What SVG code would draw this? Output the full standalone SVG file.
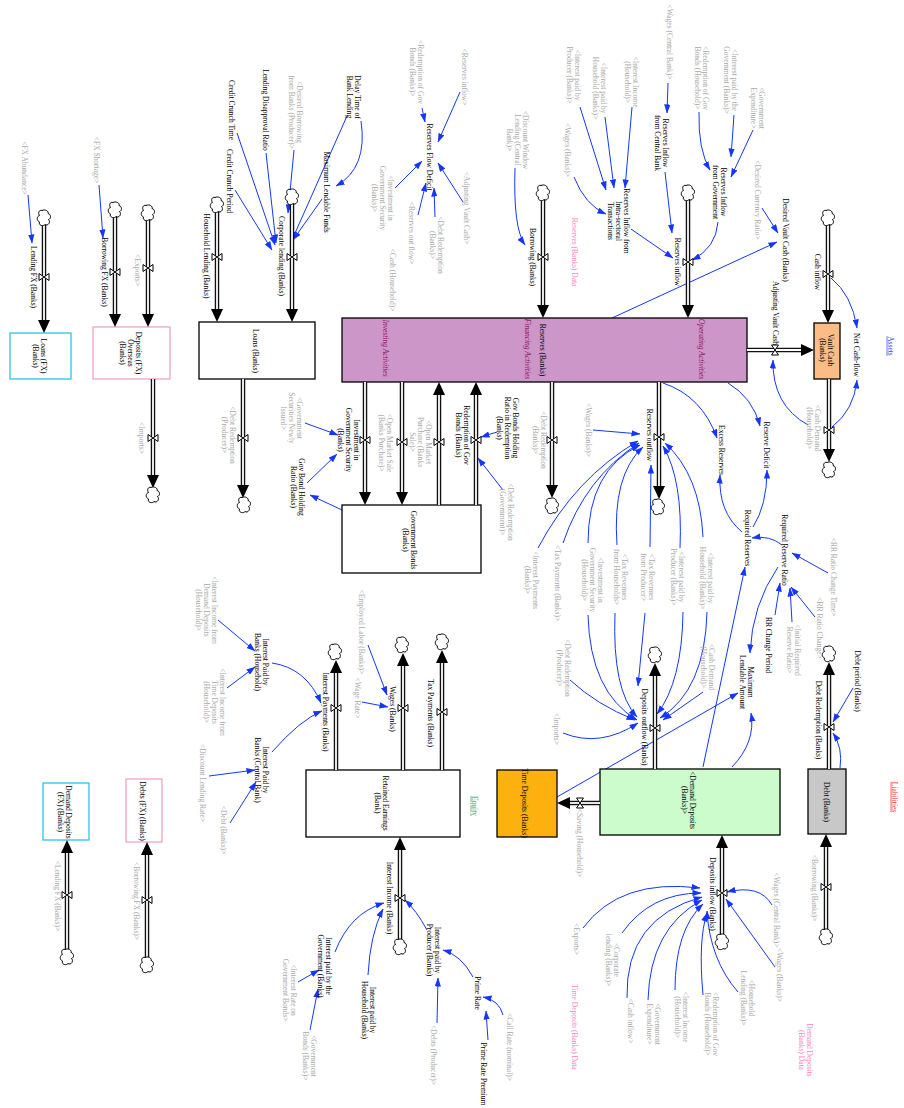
<svg xmlns="http://www.w3.org/2000/svg" width="904" height="1108" viewBox="0 0 904 1108">
<defs>
<style>
.t{font-family:"Liberation Serif","Times New Roman",serif;font-size:7.5px;text-anchor:middle;fill:#000}
.g{fill:#a9a9a9}
.p{fill:#ff7fbf}
.i{font-style:italic;fill:#8c1060}
.lk{fill:none;stroke:#1436ff;stroke-width:1;marker-end:url(#ar)}
.po{stroke:#111;stroke-width:4.5;fill:none}
.pi{stroke:#fff;stroke-width:1.8;fill:none}
.bx{stroke:#000;stroke-width:1.3}
</style>
<marker id="ar" viewBox="0 0 10 7" refX="9.5" refY="3.5" markerWidth="9" markerHeight="6.5" markerUnits="userSpaceOnUse" orient="auto"><path d="M0,0 L10,3.5 L0,7 Z" fill="#1436ff"/></marker>
<path id="cl" d="M-2,-7.5 C1,-9 5,-7 4,-4.5 C7.5,-3.5 7,1 4.5,1.5 C7,4 4,8.5 1,6.5 C-1,9 -6,7 -4.5,4 C-8,2.5 -7,-2 -4.5,-2.5 C-6.5,-5.5 -4.5,-8.5 -2,-7.5 Z" fill="#fff" stroke="#000" stroke-width="1"/>
<path id="vv" d="M-5,-3.5 L5,3.5 L5,-3.5 L-5,3.5 Z" fill="#fff" stroke="#000" stroke-width="1"/>
<path id="ah" d="M0,0 L-6,-13 L6,-13 Z" fill="#000"/>
</defs>
<rect width="904" height="1108" fill="#fff"/>

<!-- connectors -->
<g id="links">
<path class="lk" d="M28,195 L32,243"/>
<path class="lk" d="M99,185 L103,238"/>
<path class="lk" d="M237,133 L275,245"/>
<path class="lk" d="M235,190 L272,250"/>
<path class="lk" d="M266,153 L276,243"/>
<path class="lk" d="M294,150 L288,213"/>
<path class="lk" d="M347,116 L292,240"/>
<path class="lk" d="M361,121 Q368,168 336,186"/>
<path class="lk" d="M322,199 L293,240"/>
<path class="lk" d="M422,108 L425,122"/>
<path class="lk" d="M460,92 L438,142"/>
<path class="lk" d="M395,188 L422,161"/>
<path class="lk" d="M418,215 L426,183"/>
<path class="lk" d="M435,217 L434,188"/>
<path class="lk" d="M463,202 L438,163"/>
<path class="lk" d="M515,168 Q513,228 525,245"/>
<path class="lk" d="M580,107 L606,190"/>
<path class="lk" d="M605,117 L614,188"/>
<path class="lk" d="M632,107 L625,188"/>
<path class="lk" d="M574,177 Q585,205 606,214"/>
<path class="lk" d="M631,229 L673,258"/>
<path class="lk" d="M668,83 L667,113"/>
<path class="lk" d="M665,172 L672,233"/>
<path class="lk" d="M699,112 Q698,150 710,170"/>
<path class="lk" d="M734,115 L731,157"/>
<path class="lk" d="M753,130 L731,177"/>
<path class="lk" d="M718,222 Q716,248 692,260"/>
<path class="lk" d="M762,208 L778,233"/>
<path class="lk" d="M612,318 L777,242"/>
<path class="lk" d="M831,278 Q852,295 857,328"/>
<path class="lk" d="M832,427 Q854,410 857,380"/>
<path class="lk" d="M808,425 Q772,405 773,360"/>
<path class="lk" d="M663,383 Q702,396 717,438"/>
<path class="lk" d="M728,383 Q753,398 760,426"/>
<path class="lk" d="M742,532 Q718,512 720,475"/>
<path class="lk" d="M753,527 Q767,505 767,470"/>
<path class="lk" d="M782,545 Q770,535 752,538"/>
<path class="lk" d="M828,573 L792,553"/>
<path class="lk" d="M815,617 L791,587"/>
<path class="lk" d="M792,622 L790,588"/>
<path class="lk" d="M775,615 L780,583"/>
<path class="lk" d="M778,567 Q752,605 750,653"/>
<path class="lk" d="M703,767 L745,567"/>
<path class="lk" d="M732,767 Q756,742 751,713"/>
<path class="lk" d="M557,797 L738,693"/>
<path class="lk" d="M305,423 L338,435"/>
<path class="lk" d="M307,483 L337,454"/>
<path class="lk" d="M342,510 L310,495"/>
<path class="lk" d="M497,432 L481,437"/>
<path class="lk" d="M503,490 L478,458"/>
<path class="lk" d="M593,430 L640,434"/>
<path class="lk" d="M538,548 Q575,478 638,441"/>
<path class="lk" d="M563,543 Q585,478 639,443"/>
<path class="lk" d="M588,543 Q588,470 640,445"/>
<path class="lk" d="M617,545 Q612,475 643,447"/>
<path class="lk" d="M650,547 L651,465"/>
<path class="lk" d="M680,548 Q683,480 663,446"/>
<path class="lk" d="M703,537 Q700,475 665,443"/>
<path class="lk" d="M588,615 Q590,692 637,720"/>
<path class="lk" d="M615,613 Q612,690 637,717"/>
<path class="lk" d="M645,613 L638,686"/>
<path class="lk" d="M683,612 Q682,682 657,714"/>
<path class="lk" d="M707,612 Q705,690 660,718"/>
<path class="lk" d="M703,692 L663,720"/>
<path class="lk" d="M570,680 Q597,705 635,720"/>
<path class="lk" d="M563,733 Q600,748 638,723"/>
<path class="lk" d="M772,905 Q760,884 727,892"/>
<path class="lk" d="M775,967 L726,899"/>
<path class="lk" d="M738,992 Q710,960 707,911"/>
<path class="lk" d="M703,995 Q698,940 707,913"/>
<path class="lk" d="M675,990 Q675,930 703,904"/>
<path class="lk" d="M648,1000 Q650,928 702,900"/>
<path class="lk" d="M627,998 Q625,918 702,897"/>
<path class="lk" d="M622,933 Q650,893 701,893"/>
<path class="lk" d="M583,928 Q620,878 700,888"/>
<path class="lk" d="M853,688 L833,722"/>
<path class="lk" d="M840,768 Q843,748 833,733"/>
<path class="lk" d="M368,645 L387,695"/>
<path class="lk" d="M362,702 L388,707"/>
<path class="lk" d="M218,620 L255,651"/>
<path class="lk" d="M227,688 L255,667"/>
<path class="lk" d="M272,663 Q306,668 321,703"/>
<path class="lk" d="M272,752 Q300,720 322,711"/>
<path class="lk" d="M209,776 L255,770"/>
<path class="lk" d="M230,823 L256,782"/>
<path class="lk" d="M335,952 Q350,913 384,903"/>
<path class="lk" d="M368,975 Q370,935 383,909"/>
<path class="lk" d="M427,930 Q416,910 405,900"/>
<path class="lk" d="M473,977 Q461,955 443,950"/>
<path class="lk" d="M437,1023 L438,978"/>
<path class="lk" d="M503,1015 Q499,1000 483,997"/>
<path class="lk" d="M488,1040 L486,1011"/>
<path class="lk" d="M298,982 L319,970"/>
<path class="lk" d="M310,1030 L318,989"/>
</g>

<!-- stocks -->
<g id="stock-loans-fx"><rect x="10" y="333" width="61" height="46" fill="#fff" stroke="#29c5ec" stroke-width="1.3"/>
<text class="t" transform="translate(40,356) rotate(90)"><tspan x="0" y="-1.4">Loans (FX)</tspan><tspan x="0" y="6.6">(Banks)</tspan></text></g>
<g id="stock-deposits-fx-overseas"><rect x="93" y="327" width="77" height="52" fill="#fff" stroke="#f3a3c6" stroke-width="1.3"/>
<text class="t" transform="translate(131,353) rotate(90)"><tspan x="0" y="-5.4">Deposits (FX)</tspan><tspan x="0" y="2.6">Overseas</tspan><tspan x="0" y="10.6">(Banks)</tspan></text></g>
<g id="stock-loans"><rect class="bx" x="199" y="322" width="116" height="57" fill="#fff"/>
<text class="t" transform="translate(256,351) rotate(90)"><tspan x="0" y="2.6">Loans (Banks)</tspan></text></g>
<g id="stock-reserves"><rect class="bx" x="342" y="318" width="405" height="64" fill="#cc96c8"/>
<text class="t" transform="translate(543,350) rotate(90)"><tspan x="0" y="2.6">Reserves (Banks)</tspan></text>
<text class="t i" transform="translate(386,348) rotate(90)"><tspan x="0" y="2.6">Investing Activities</tspan></text>
<text class="t i" transform="translate(528,349) rotate(90)"><tspan x="0" y="2.6">Financing Activities</tspan></text>
<text class="t i" transform="translate(702,349) rotate(90)"><tspan x="0" y="2.6">Operating Activities</tspan></text></g>
<g id="stock-vault-cash"><rect class="bx" x="814" y="323" width="26" height="56" fill="#fbbd85"/>
<text class="t" transform="translate(827,350) rotate(90)"><tspan x="0" y="-1.4">Vault Cash</tspan><tspan x="0" y="6.6">(Banks)</tspan></text></g>
<g id="stock-gov-bonds"><rect class="bx" x="342" y="505" width="139" height="68" fill="#fff"/>
<text class="t" transform="translate(410,540) rotate(90)"><tspan x="0" y="-1.4">Government Bonds</tspan><tspan x="0" y="6.6">(Banks)</tspan></text></g>
<g id="stock-retained-earnings"><rect class="bx" x="306" y="770" width="154" height="67" fill="#fff"/>
<text class="t" transform="translate(382,803) rotate(90)"><tspan x="0" y="-1.4">Retained Earnings</tspan><tspan x="0" y="6.6">(Bank)</tspan></text></g>
<g id="stock-time-deposits"><rect class="bx" x="497" y="770" width="60" height="67" fill="#fdb10f"/>
<text class="t" transform="translate(525,803) rotate(90)"><tspan x="0" y="2.6">Time Deposits (Banks)</tspan></text></g>
<g id="stock-demand-deposits"><rect class="bx" x="600" y="769" width="180" height="66" fill="#ccfccc"/>
<text class="t" transform="translate(689,800) rotate(90)"><tspan x="0" y="-1.4">&lt;Demand Deposits</tspan><tspan x="0" y="6.6">(Banks)&gt;</tspan></text></g>
<g id="stock-debt"><rect class="bx" x="808" y="769" width="38" height="65" fill="#c8c8c8"/>
<text class="t" transform="translate(827,802) rotate(90)"><tspan x="0" y="2.6">Debt (Banks)</tspan></text></g>
<g id="stock-dd-fx"><rect x="43" y="783" width="46" height="57" fill="#fff" stroke="#29c5ec" stroke-width="1.3"/>
<text class="t" transform="translate(65,812) rotate(90)"><tspan x="0" y="-1.4">Demand Deposits</tspan><tspan x="0" y="6.6">(FX) (Banks)</tspan></text></g>
<g id="stock-debts-fx"><rect x="126" y="779" width="36" height="63" fill="#fff" stroke="#f3a3c6" stroke-width="1.3"/>
<text class="t" transform="translate(143,811) rotate(90)"><tspan x="0" y="2.6">Debts (FX) (Banks)</tspan></text></g>

<!-- flows -->
<g id="flow-lending-fx"><path class="po" d="M44,224 V322"/><path class="pi" d="M44,224 V322"/><use href="#ah" transform="translate(44,333)"/><use href="#cl" x="44" y="218"/><use href="#vv" x="44" y="277"/>
<text class="t" transform="translate(34,277) rotate(90)"><tspan x="0" y="2.6">Lending FX (Banks)</tspan></text></g>
<g id="flow-borrowing-fx"><path class="po" d="M115,216 V316"/><path class="pi" d="M115,216 V316"/><use href="#ah" transform="translate(115,327)"/><use href="#cl" x="115" y="210"/><use href="#vv" x="115" y="272"/>
<text class="t" transform="translate(105,272) rotate(90)"><tspan x="0" y="2.6">Borrowing FX (Banks)</tspan></text></g>
<g id="flow-exports"><path class="po" d="M148,219 V316"/><path class="pi" d="M148,219 V316"/><use href="#ah" transform="translate(148,327)"/><use href="#cl" x="148" y="213"/><use href="#vv" x="148" y="268"/>
<text class="t g" transform="translate(138,270) rotate(90)"><tspan x="0" y="2.6">&lt;Exports&gt;</tspan></text></g>
<g id="flow-imports"><path class="po" d="M153,379 V478"/><path class="pi" d="M153,379 V478"/><use href="#ah" transform="translate(153,488)"/><use href="#cl" x="153" y="495"/><use href="#vv" x="153" y="438"/>
<text class="t g" transform="translate(142,438) rotate(90)"><tspan x="0" y="2.6">&lt;Imports&gt;</tspan></text></g>
<g id="flow-household-lending"><path class="po" d="M217,211 V311"/><path class="pi" d="M217,211 V311"/><use href="#ah" transform="translate(217,322)"/><use href="#cl" x="217" y="205"/><use href="#vv" x="217" y="257"/>
<text class="t" transform="translate(207,256) rotate(90)"><tspan x="0" y="2.6">Household Lending (Banks)</tspan></text></g>
<g id="flow-corporate-lending"><path class="po" d="M292,203 V311"/><path class="pi" d="M292,203 V311"/><use href="#ah" transform="translate(292,322)"/><use href="#cl" x="292" y="197"/><use href="#vv" x="292" y="257"/>
<text class="t" transform="translate(282,256) rotate(90)"><tspan x="0" y="2.6">Corporate lending (Banks)</tspan></text></g>
<g id="flow-debt-redemption-producer"><path class="po" d="M243,379 V488"/><path class="pi" d="M243,379 V488"/><use href="#ah" transform="translate(243,498)"/><use href="#cl" x="244" y="505"/><use href="#vv" x="243" y="438"/>
<text class="t g" transform="translate(229,435) rotate(90)"><tspan x="0" y="-1.4">&lt;Debt Redemption</tspan><tspan x="0" y="6.6">(Producer)&gt;</tspan></text></g>
<g id="flow-borrowing-banks"><path class="po" d="M543,199 V307"/><path class="pi" d="M543,199 V307"/><use href="#ah" transform="translate(543,318)"/><use href="#cl" x="543" y="193"/><use href="#vv" x="543" y="257"/>
<text class="t" transform="translate(533,257) rotate(90)"><tspan x="0" y="2.6">Borrowing (Banks)</tspan></text></g>
<g id="flow-reserves-inflow"><path class="po" d="M688,199 V307"/><path class="pi" d="M688,199 V307"/><use href="#ah" transform="translate(688,318)"/><use href="#cl" x="688" y="193"/><use href="#vv" x="688" y="262"/>
<text class="t" transform="translate(678,262) rotate(90)"><tspan x="0" y="2.6">Reserves inflow</tspan></text></g>
<g id="flow-cash-inflow"><path class="po" d="M828,224 V312"/><path class="pi" d="M828,224 V312"/><use href="#ah" transform="translate(828,323)"/><use href="#cl" x="828" y="218"/><use href="#vv" x="828" y="274"/>
<text class="t" transform="translate(818,272) rotate(90)"><tspan x="0" y="2.6">Cash inflow</tspan></text></g>
<g id="flow-adjusting-vault-cash"><path class="po" d="M747,350 H803"/><path class="pi" d="M747,350 H803"/><use href="#ah" transform="translate(814,350) rotate(-90)"/><use href="#vv" transform="translate(775,350) rotate(90)"/>
<text class="t" transform="translate(776,313) rotate(90)"><tspan x="0" y="2.6">Adjusting Vault Cash</tspan></text></g>
<g id="flow-cash-outflow"><path class="po" d="M829,379 V452"/><path class="pi" d="M829,379 V452"/><use href="#ah" transform="translate(829,462)"/><use href="#cl" x="829" y="470"/><use href="#vv" x="829" y="430"/>
<text class="t g" transform="translate(814,428) rotate(90)"><tspan x="0" y="-1.4">&lt;Cash Demand</tspan><tspan x="0" y="6.6">(Household)&gt;</tspan></text></g>
<g id="flow-investment-gov-security"><path class="po" d="M365,382 V494"/><path class="pi" d="M365,382 V494"/><use href="#ah" transform="translate(365,505)"/><use href="#vv" x="365" y="440"/>
<text class="t" transform="translate(349,440) rotate(90)"><tspan x="0" y="-5.4">Investment in</tspan><tspan x="0" y="2.6">Government Security</tspan><tspan x="0" y="10.6">(Banks)</tspan></text></g>
<g id="flow-open-market-sale"><path class="po" d="M402,382 V494"/><path class="pi" d="M402,382 V494"/><use href="#ah" transform="translate(402,505)"/><use href="#vv" x="402" y="442"/>
<text class="t g" transform="translate(386,443) rotate(90)"><tspan x="0" y="-1.4">&lt;Open Market Sale</tspan><tspan x="0" y="6.6">(Banks Purchase)&gt;</tspan></text></g>
<g id="flow-open-market-purchase"><path class="po" d="M439,505 V393"/><path class="pi" d="M439,505 V393"/><use href="#ah" transform="translate(439,382) rotate(180)"/><use href="#vv" x="439" y="442"/>
<text class="t g" transform="translate(421,442) rotate(90)"><tspan x="0" y="-5.4">&lt;Open Market</tspan><tspan x="0" y="2.6">Purchase (Banks</tspan><tspan x="0" y="10.6">Sale)&gt;</tspan></text></g>
<g id="flow-redemption-gov-bonds"><path class="po" d="M476,505 V393"/><path class="pi" d="M476,505 V393"/><use href="#ah" transform="translate(476,382) rotate(180)"/><use href="#vv" x="476" y="440"/>
<text class="t" transform="translate(463,435) rotate(90)"><tspan x="0" y="-1.4">Redemption of Gov</tspan><tspan x="0" y="6.6">Bonds (Banks)</tspan></text></g>
<g id="flow-debt-redemption-banks"><path class="po" d="M552,382 V488"/><path class="pi" d="M552,382 V488"/><use href="#ah" transform="translate(552,498)"/><use href="#cl" x="552" y="506"/><use href="#vv" x="552" y="440"/>
<text class="t g" transform="translate(540,440) rotate(90)"><tspan x="0" y="-1.4">&lt;Debt Redemption</tspan><tspan x="0" y="6.6">(Banks)&gt;</tspan></text></g>
<g id="flow-reserves-outflow"><path class="po" d="M659,382 V489"/><path class="pi" d="M659,382 V489"/><use href="#ah" transform="translate(659,499)"/><use href="#cl" x="658" y="507"/><use href="#vv" x="659" y="437"/>
<text class="t" transform="translate(650,435) rotate(90)"><tspan x="0" y="2.6">Reserves outflow</tspan></text></g>
<g id="flow-deposits-outflow"><path class="po" d="M655,769 V674"/><path class="pi" d="M655,769 V674"/><use href="#ah" transform="translate(655,663) rotate(180)"/><use href="#cl" x="655" y="655"/><use href="#vv" x="655" y="728"/>
<text class="t" transform="translate(645,727) rotate(90)"><tspan x="0" y="2.6">Deposits outflow (Banks)</tspan></text></g>
<g id="flow-saving"><path class="po" d="M600,803 H568"/><path class="pi" d="M600,803 H568"/><use href="#ah" transform="translate(557,803) rotate(90)"/><use href="#vv" transform="translate(580,803) rotate(90)"/>
<text class="t g" transform="translate(580,843) rotate(90)"><tspan x="0" y="2.6">&lt;Saving (Household)&gt;</tspan></text></g>
<g id="flow-deposits-inflow"><path class="po" d="M722,936 V846"/><path class="pi" d="M722,936 V846"/><use href="#ah" transform="translate(722,835) rotate(180)"/><use href="#cl" x="722" y="942"/><use href="#vv" x="722" y="893"/>
<text class="t" transform="translate(713,894) rotate(90)"><tspan x="0" y="2.6">Deposits inflow (Banks)</tspan></text></g>
<g id="flow-debt-redemption"><path class="po" d="M829,769 V673"/><path class="pi" d="M829,769 V673"/><use href="#ah" transform="translate(829,662) rotate(180)"/><use href="#cl" x="829" y="654"/><use href="#vv" x="829" y="727"/>
<text class="t" transform="translate(819,720) rotate(90)"><tspan x="0" y="2.6">Debt Redemption (Banks)</tspan></text></g>
<g id="flow-borrowing-debt"><path class="po" d="M826,931 V845"/><path class="pi" d="M826,931 V845"/><use href="#ah" transform="translate(826,834) rotate(180)"/><use href="#cl" x="826" y="937"/><use href="#vv" x="826" y="887"/>
<text class="t g" transform="translate(815,888) rotate(90)"><tspan x="0" y="2.6">&lt;Borrowing (Banks)&gt;</tspan></text></g>
<g id="flow-interest-payments"><path class="po" d="M336,770 V671"/><path class="pi" d="M336,770 V671"/><use href="#ah" transform="translate(336,660) rotate(180)"/><use href="#cl" x="335" y="652"/><use href="#vv" x="336" y="708"/>
<text class="t" transform="translate(326,712) rotate(90)"><tspan x="0" y="2.6">Interest Payments (Banks)</tspan></text></g>
<g id="flow-wages"><path class="po" d="M403,770 V664"/><path class="pi" d="M403,770 V664"/><use href="#ah" transform="translate(403,653) rotate(180)"/><use href="#cl" x="402" y="645"/><use href="#vv" x="403" y="708"/>
<text class="t" transform="translate(393,709) rotate(90)"><tspan x="0" y="2.6">Wages (Banks)</tspan></text></g>
<g id="flow-tax-payments"><path class="po" d="M442,770 V661"/><path class="pi" d="M442,770 V661"/><use href="#ah" transform="translate(442,650) rotate(180)"/><use href="#cl" x="442" y="642"/><use href="#vv" x="442" y="712"/>
<text class="t" transform="translate(431,713) rotate(90)"><tspan x="0" y="2.6">Tax Payments (Banks)</tspan></text></g>
<g id="flow-interest-income"><path class="po" d="M400,941 V848"/><path class="pi" d="M400,941 V848"/><use href="#ah" transform="translate(400,837) rotate(180)"/><use href="#cl" x="400" y="947"/><use href="#vv" x="400" y="898"/>
<text class="t" transform="translate(390,898) rotate(90)"><tspan x="0" y="2.6">Interest Income (Banks)</tspan></text></g>
<g id="flow-lending-fx-dd"><path class="po" d="M67,951 V851"/><path class="pi" d="M67,951 V851"/><use href="#ah" transform="translate(67,840) rotate(180)"/><use href="#cl" x="67" y="957"/><use href="#vv" x="67" y="895"/>
<text class="t g" transform="translate(58,896) rotate(90)"><tspan x="0" y="2.6">&lt;Lending FX (Banks)&gt;</tspan></text></g>
<g id="flow-borrowing-fx-debts"><path class="po" d="M147,959 V853"/><path class="pi" d="M147,959 V853"/><use href="#ah" transform="translate(147,842) rotate(180)"/><use href="#cl" x="147" y="965"/><use href="#vv" x="147" y="900"/>
<text class="t g" transform="translate(137,901) rotate(90)"><tspan x="0" y="2.6">&lt;Borrowing FX (Banks)&gt;</tspan></text></g>

<!-- auxiliaries -->
<g id="v-fx-abundance"><text class="t g" transform="translate(25,168) rotate(90)"><tspan x="0" y="2.6">&lt;FX Abundance&gt;</tspan></text></g>
<g id="v-fx-shortage"><text class="t g" transform="translate(97,160) rotate(90)"><tspan x="0" y="2.6">&lt;FX Shortage&gt;</tspan></text></g>
<g id="v-credit-crunch-time"><text class="t" transform="translate(232,110) rotate(90)"><tspan x="0" y="2.6">Credit Crunch Time</tspan></text></g>
<g id="v-credit-crunch-period"><text class="t" transform="translate(230,181) rotate(90)"><tspan x="0" y="2.6">Credit Crunch Period</tspan></text></g>
<g id="v-lending-disapproval"><text class="t" transform="translate(266,110) rotate(90)"><tspan x="0" y="2.6">Lending Disapproval Ratio</tspan></text></g>
<g id="v-desired-borrowing"><text class="t g" transform="translate(296,112) rotate(90)"><tspan x="0" y="-1.4">&lt;Desired Borrowing</tspan><tspan x="0" y="6.6">from Banks (Producer)&gt;</tspan></text></g>
<g id="v-delay-time"><text class="t" transform="translate(354,97) rotate(90)"><tspan x="0" y="-1.4">Delay Time of</tspan><tspan x="0" y="6.6">Bank Lending</tspan></text></g>
<g id="v-max-lendable-funds"><text class="t" transform="translate(327,192) rotate(90)"><tspan x="0" y="2.6">Maximum Lendable Funds</tspan></text></g>
<g id="v-reserves-flow-deficit"><text class="t" transform="translate(430,157) rotate(90)"><tspan x="0" y="2.6">Reserves Flow Deficit</tspan></text></g>
<g id="v-redemption-gov-bonds-banks"><text class="t g" transform="translate(417,72) rotate(90)"><tspan x="0" y="-1.4">&lt;Redemption of Gov</tspan><tspan x="0" y="6.6">Bonds (Banks)&gt;</tspan></text></g>
<g id="v-reserves-inflow-s"><text class="t g" transform="translate(465,77) rotate(90)"><tspan x="0" y="2.6">&lt;Reserves inflow&gt;</tspan></text></g>
<g id="v-investment-gs-banks"><text class="t g" transform="translate(383,198) rotate(90)"><tspan x="0" y="-5.4">&lt;Investment in</tspan><tspan x="0" y="2.6">Government Security</tspan><tspan x="0" y="10.6">(Banks)&gt;</tspan></text></g>
<g id="v-reserves-out-flow"><text class="t g" transform="translate(412,233) rotate(90)"><tspan x="0" y="2.6">&lt;Reserves out flow&gt;</tspan></text></g>
<g id="v-debt-redemption-banks-s"><text class="t g" transform="translate(437,245) rotate(90)"><tspan x="0" y="-1.4">&lt;Debt Redemption</tspan><tspan x="0" y="6.6">(Banks)&gt;</tspan></text></g>
<g id="v-adjusting-vault-cash-s"><text class="t g" transform="translate(467,208) rotate(90)"><tspan x="0" y="2.6">&lt;Adjusting Vault Cash&gt;</tspan></text></g>
<g id="v-cash-household"><text class="t g" transform="translate(393,280) rotate(90)"><tspan x="0" y="2.6">&lt;Cash (Household)&gt;</tspan></text></g>
<g id="v-discount-window"><text class="t g" transform="translate(518,140) rotate(90)"><tspan x="0" y="-5.4">&lt;Discount Window</tspan><tspan x="0" y="2.6">Lending (Central</tspan><tspan x="0" y="10.6">Bank)&gt;</tspan></text></g>
<g id="v-reserves-data"><text class="t p" transform="translate(575,252) rotate(90)"><tspan x="0" y="2.6">Reserves (Banks) Data</tspan></text></g>
<g id="v-int-paid-producer-1"><text class="t g" transform="translate(574,75) rotate(90)"><tspan x="0" y="-1.4">&lt;Interest paid by</tspan><tspan x="0" y="6.6">Producer (Banks)&gt;</tspan></text></g>
<g id="v-int-paid-household-1"><text class="t g" transform="translate(600,88) rotate(90)"><tspan x="0" y="-1.4">&lt;Interest paid by</tspan><tspan x="0" y="6.6">Household (Banks)&gt;</tspan></text></g>
<g id="v-interest-income-hh-1"><text class="t g" transform="translate(632,82) rotate(90)"><tspan x="0" y="-1.4">&lt;Interest Income</tspan><tspan x="0" y="6.6">(Household)&gt;</tspan></text></g>
<g id="v-wages-banks-1"><text class="t g" transform="translate(568,150) rotate(90)"><tspan x="0" y="2.6">&lt;Wages (Banks)&gt;</tspan></text></g>
<g id="v-reserves-inflow-intra"><text class="t" transform="translate(619,221) rotate(90)"><tspan x="0" y="-5.4">Reserves Inflow from</tspan><tspan x="0" y="2.6">Intra-sectoral</tspan><tspan x="0" y="10.6">Transactions</tspan></text></g>
<g id="v-wages-cb-1"><text class="t g" transform="translate(670,42) rotate(90)"><tspan x="0" y="2.6">&lt;Wages (Central Bank)&gt;</tspan></text></g>
<g id="v-reserves-inflow-cb"><text class="t" transform="translate(662,143) rotate(90)"><tspan x="0" y="-1.4">Reserves Inflow</tspan><tspan x="0" y="6.6">from Central Bank</tspan></text></g>
<g id="v-int-paid-gov-1"><text class="t g" transform="translate(731,80) rotate(90)"><tspan x="0" y="-1.4">&lt;Interest paid by the</tspan><tspan x="0" y="6.6">Government (Banks)&gt;</tspan></text></g>
<g id="v-redemption-hh-1"><text class="t g" transform="translate(702,78) rotate(90)"><tspan x="0" y="-1.4">&lt;Redemption of Gov</tspan><tspan x="0" y="6.6">Bonds (Household)&gt;</tspan></text></g>
<g id="v-gov-expenditure-1"><text class="t g" transform="translate(758,108) rotate(90)"><tspan x="0" y="-1.4">&lt;Government</tspan><tspan x="0" y="6.6">Expenditure&gt;</tspan></text></g>
<g id="v-reserves-inflow-gov"><text class="t" transform="translate(720,192) rotate(90)"><tspan x="0" y="-1.4">Reserves Inflow</tspan><tspan x="0" y="6.6">from Government</tspan></text></g>
<g id="v-desired-currency-ratio"><text class="t g" transform="translate(758,200) rotate(90)"><tspan x="0" y="2.6">&lt;Desired Currency Ratio&gt;</tspan></text></g>
<g id="v-desired-vault-cash"><text class="t" transform="translate(786,240) rotate(90)"><tspan x="0" y="2.6">Desired Vault Cash (Banks)</tspan></text></g>
<g id="v-net-cash-flow"><text class="t" transform="translate(857,355) rotate(90)"><tspan x="0" y="2.6">Net Cash-flow</tspan></text></g>
<g id="v-assets"><text class="t" style="fill:#2850ff" text-decoration="underline" transform="translate(891,346) rotate(90)"><tspan x="0" y="2.6">Assets</tspan></text></g>
<g id="v-gov-securities-issued"><text class="t g" transform="translate(292,418) rotate(90)"><tspan x="0" y="-5.4">&lt;Government</tspan><tspan x="0" y="2.6">Securities Newly</tspan><tspan x="0" y="10.6">Issued&gt;</tspan></text></g>
<g id="v-gov-bond-holding-ratio"><text class="t" transform="translate(298,487) rotate(90)"><tspan x="0" y="-1.4">Gov Bond Holding</tspan><tspan x="0" y="6.6">Ratio (Banks)</tspan></text></g>
<g id="v-gov-bonds-holding-redemption"><text class="t" transform="translate(508,428) rotate(90)"><tspan x="0" y="-5.4">Gov Bonds Holding</tspan><tspan x="0" y="2.6">Ratio in Redemption</tspan><tspan x="0" y="10.6">(Banks)</tspan></text></g>
<g id="v-debt-redemption-gov"><text class="t g" transform="translate(507,512) rotate(90)"><tspan x="0" y="-1.4">&lt;Debt Redemption</tspan><tspan x="0" y="6.6">(Government)&gt;</tspan></text></g>
<g id="v-wages-banks-2"><text class="t g" transform="translate(589,430) rotate(90)"><tspan x="0" y="2.6">&lt;Wages (Banks)&gt;</tspan></text></g>
<g id="v-interest-payments-s"><text class="t g" transform="translate(532,580) rotate(90)"><tspan x="0" y="-1.4">&lt;Interest Payments</tspan><tspan x="0" y="6.6">(Banks)&gt;</tspan></text></g>
<g id="v-tax-payments-s"><text class="t g" transform="translate(558,583) rotate(90)"><tspan x="0" y="2.6">&lt;Tax Payments (Banks)&gt;</tspan></text></g>
<g id="v-investment-gs-hh"><text class="t g" transform="translate(593,580) rotate(90)"><tspan x="0" y="-5.4">&lt;Investment in</tspan><tspan x="0" y="2.6">Government Security</tspan><tspan x="0" y="10.6">(Household)&gt;</tspan></text></g>
<g id="v-tax-rev-hh"><text class="t g" transform="translate(621,577) rotate(90)"><tspan x="0" y="-1.4">&lt;Tax Revenues</tspan><tspan x="0" y="6.6">from Households&gt;</tspan></text></g>
<g id="v-tax-rev-producer"><text class="t g" transform="translate(648,577) rotate(90)"><tspan x="0" y="-1.4">&lt;Tax Revenues</tspan><tspan x="0" y="6.6">from Producer&gt;</tspan></text></g>
<g id="v-int-paid-producer-2"><text class="t g" transform="translate(678,577) rotate(90)"><tspan x="0" y="-1.4">&lt;Interest paid by</tspan><tspan x="0" y="6.6">Producer (Banks)&gt;</tspan></text></g>
<g id="v-int-paid-household-2"><text class="t g" transform="translate(707,578) rotate(90)"><tspan x="0" y="-1.4">&lt;Interest paid by</tspan><tspan x="0" y="6.6">Household (Banks)&gt;</tspan></text></g>
<g id="v-excess-reserves"><text class="t" transform="translate(722,450) rotate(90)"><tspan x="0" y="2.6">Excess Reserves</tspan></text></g>
<g id="v-reserve-deficit"><text class="t" transform="translate(767,445) rotate(90)"><tspan x="0" y="2.6">Reserve Deficit</tspan></text></g>
<g id="v-required-reserves"><text class="t" transform="translate(748,538) rotate(90)"><tspan x="0" y="2.6">Required Reserves</tspan></text></g>
<g id="v-required-reserve-ratio"><text class="t" transform="translate(785,550) rotate(90)"><tspan x="0" y="2.6">Required Reserve Ratio</tspan></text></g>
<g id="v-rr-ratio-change-time"><text class="t g" transform="translate(834,577) rotate(90)"><tspan x="0" y="2.6">&lt;RR Ratio Change Time&gt;</tspan></text></g>
<g id="v-rr-ratio-change"><text class="t g" transform="translate(820,628) rotate(90)"><tspan x="0" y="2.6">&lt;RR Ratio Change&gt;</tspan></text></g>
<g id="v-initial-rrr"><text class="t g" transform="translate(794,650) rotate(90)"><tspan x="0" y="-1.4">&lt;Initial Required</tspan><tspan x="0" y="6.6">Reserve Ratio&gt;</tspan></text></g>
<g id="v-rr-change-period"><text class="t" transform="translate(769,645) rotate(90)"><tspan x="0" y="2.6">RR Change Period</tspan></text></g>
<g id="v-max-lendable-amount"><text class="t" transform="translate(747,682) rotate(90)"><tspan x="0" y="-1.4">Maximum</tspan><tspan x="0" y="6.6">Lendable Amount</tspan></text></g>
<g id="v-cash-demand-hh-2"><text class="t g" transform="translate(708,667) rotate(90)"><tspan x="0" y="-1.4">&lt;Cash Demand</tspan><tspan x="0" y="6.6">(Household)&gt;</tspan></text></g>
<g id="v-debt-redemption-producer-2"><text class="t g" transform="translate(564,668) rotate(90)"><tspan x="0" y="-1.4">&lt;Debt Redemption</tspan><tspan x="0" y="6.6">(Producer)&gt;</tspan></text></g>
<g id="v-imports-2"><text class="t g" transform="translate(557,729) rotate(90)"><tspan x="0" y="2.6">&lt;Imports&gt;</tspan></text></g>
<g id="v-debt-period"><text class="t" transform="translate(858,681) rotate(90)"><tspan x="0" y="2.6">Debt period (Banks)</tspan></text></g>
<g id="v-equity"><text class="t" style="fill:#2fa866" text-decoration="underline" transform="translate(475,806) rotate(90)"><tspan x="0" y="2.6">Equity</tspan></text></g>
<g id="v-liabilities"><text class="t" style="fill:#ff3030" text-decoration="underline" transform="translate(895,797) rotate(90)"><tspan x="0" y="2.6">Liabilities</tspan></text></g>
<g id="v-wages-cb-2"><text class="t g" transform="translate(777,910) rotate(90)"><tspan x="0" y="2.6">&lt;Wages (Central Bank)&gt;</tspan></text></g>
<g id="v-wages-banks-3"><text class="t g" transform="translate(780,975) rotate(90)"><tspan x="0" y="2.6">&lt;Wages (Banks)&gt;</tspan></text></g>
<g id="v-household-lending-s"><text class="t g" transform="translate(748,998) rotate(90)"><tspan x="0" y="-1.4">&lt;Household</tspan><tspan x="0" y="6.6">Lending (Banks)&gt;</tspan></text></g>
<g id="v-redemption-hh-2"><text class="t g" transform="translate(712,1024) rotate(90)"><tspan x="0" y="-1.4">&lt;Redemption of Gov</tspan><tspan x="0" y="6.6">Bonds (Household)&gt;</tspan></text></g>
<g id="v-interest-income-hh-2"><text class="t g" transform="translate(682,1017) rotate(90)"><tspan x="0" y="-1.4">&lt;Interest Income</tspan><tspan x="0" y="6.6">(Household)&gt;</tspan></text></g>
<g id="v-gov-expenditure-2"><text class="t g" transform="translate(654,1024) rotate(90)"><tspan x="0" y="-1.4">&lt;Government</tspan><tspan x="0" y="6.6">Expenditure&gt;</tspan></text></g>
<g id="v-cash-inflow-s"><text class="t g" transform="translate(631,1021) rotate(90)"><tspan x="0" y="2.6">&lt;Cash inflow&gt;</tspan></text></g>
<g id="v-corporate-lending-s"><text class="t g" transform="translate(613,960) rotate(90)"><tspan x="0" y="-1.4">&lt;Corporate</tspan><tspan x="0" y="6.6">lending (Banks)&gt;</tspan></text></g>
<g id="v-exports-2"><text class="t g" transform="translate(577,939) rotate(90)"><tspan x="0" y="2.6">&lt;Exports&gt;</tspan></text></g>
<g id="v-time-deposits-data"><text class="t p" transform="translate(575,1027) rotate(90)"><tspan x="0" y="2.6">Time Deposits (Banks) Data</tspan></text></g>
<g id="v-demand-deposits-data"><text class="t p" transform="translate(806,1050) rotate(90)"><tspan x="0" y="-1.4">Demand Deposits</tspan><tspan x="0" y="6.6">(Banks) Data</tspan></text></g>
<g id="v-employed-labor"><text class="t g" transform="translate(362,632) rotate(90)"><tspan x="0" y="2.6">&lt;Employed Labor (Banks)&gt;</tspan></text></g>
<g id="v-wage-rate"><text class="t g" transform="translate(358,698) rotate(90)"><tspan x="0" y="2.6">&lt;Wage Rate&gt;</tspan></text></g>
<g id="v-ipb-household"><text class="t" transform="translate(262,662) rotate(90)"><tspan x="0" y="-1.4">Interest Paid by</tspan><tspan x="0" y="6.6">Banks (Household)</tspan></text></g>
<g id="v-ii-demand-deposits"><text class="t g" transform="translate(207,610) rotate(90)"><tspan x="0" y="-5.4">&lt;Interest Income from</tspan><tspan x="0" y="2.6">Demand Deposits</tspan><tspan x="0" y="10.6">(Household)&gt;</tspan></text></g>
<g id="v-ii-time-deposits"><text class="t g" transform="translate(215,702) rotate(90)"><tspan x="0" y="-5.4">&lt;Interest Income from</tspan><tspan x="0" y="2.6">Time Deposits</tspan><tspan x="0" y="10.6">(Household)&gt;</tspan></text></g>
<g id="v-ipb-central-bank"><text class="t" transform="translate(262,770) rotate(90)"><tspan x="0" y="-1.4">Interest Paid by</tspan><tspan x="0" y="6.6">Banks (Central Bank)</tspan></text></g>
<g id="v-discount-lending-rate"><text class="t g" transform="translate(203,783) rotate(90)"><tspan x="0" y="2.6">&lt;Discount Lending Rate&gt;</tspan></text></g>
<g id="v-debt-banks-s"><text class="t g" transform="translate(224,830) rotate(90)"><tspan x="0" y="2.6">&lt;Debt (Banks)&gt;</tspan></text></g>
<g id="v-ip-government"><text class="t" transform="translate(325,966) rotate(90)"><tspan x="0" y="-1.4">Interest paid by the</tspan><tspan x="0" y="6.6">Government (Banks)</tspan></text></g>
<g id="v-ip-household"><text class="t" transform="translate(369,1010) rotate(90)"><tspan x="0" y="-1.4">Interest paid by</tspan><tspan x="0" y="6.6">Household (Banks)</tspan></text></g>
<g id="v-ip-producer"><text class="t" transform="translate(434,950) rotate(90)"><tspan x="0" y="-1.4">Interest paid by</tspan><tspan x="0" y="6.6">Producer (Banks)</tspan></text></g>
<g id="v-prime-rate"><text class="t" transform="translate(478,993) rotate(90)"><tspan x="0" y="2.6">Prime Rate</tspan></text></g>
<g id="v-debts-producer"><text class="t g" transform="translate(434,1055) rotate(90)"><tspan x="0" y="2.6">&lt;Debts (Producer)&gt;</tspan></text></g>
<g id="v-call-rate"><text class="t g" transform="translate(510,1047) rotate(90)"><tspan x="0" y="2.6">&lt;Call Rate (nominal)&gt;</tspan></text></g>
<g id="v-prime-rate-premium"><text class="t" transform="translate(484,1074) rotate(90)"><tspan x="0" y="2.6">Prime Rate Premium</tspan></text></g>
<g id="v-interest-rate-gov-bonds"><text class="t g" transform="translate(290,990) rotate(90)"><tspan x="0" y="-1.4">&lt;Interest Rate on</tspan><tspan x="0" y="6.6">Government Bonds&gt;</tspan></text></g>
<g id="v-gov-bonds-banks-s"><text class="t g" transform="translate(310,1056) rotate(90)"><tspan x="0" y="-1.4">&lt;Government</tspan><tspan x="0" y="6.6">Bonds (Banks)&gt;</tspan></text></g>
</svg>
